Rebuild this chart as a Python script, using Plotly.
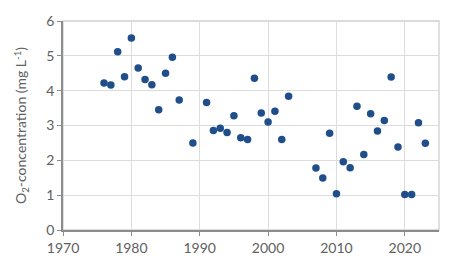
import plotly.graph_objects as go

years = [1976, 1977, 1978, 1979, 1980, 1981, 1982, 1983, 1984, 1985, 1986, 1987,
         1989, 1991, 1992, 1993, 1994, 1995, 1996, 1997, 1998, 1999, 2000, 2001,
         2002, 2003, 2007, 2008, 2009, 2010, 2011, 2012, 2013, 2014, 2015, 2016,
         2017, 2018, 2019, 2020, 2021, 2022, 2023]
o2 = [4.22, 4.16, 5.12, 4.40, 5.51, 4.65, 4.32, 4.17, 3.45, 4.50, 4.96, 3.73,
      2.50, 3.66, 2.86, 2.92, 2.80, 3.28, 2.65, 2.60, 4.36, 3.36, 3.10, 3.41,
      2.60, 3.84, 1.78, 1.49, 2.78, 1.04, 1.96, 1.79, 3.55, 2.17, 3.34, 2.84,
      3.14, 4.39, 2.38, 1.02, 1.02, 3.08, 2.49]

x_ticks = [1970, 1980, 1990, 2000, 2010, 2020]
y_ticks = [0, 1, 2, 3, 4, 5, 6]

fig = go.Figure()
fig.add_trace(go.Scatter(
    x=years, y=o2, mode="markers",
    marker=dict(color="#1f4e8a", size=7.5, line=dict(width=0)),
    showlegend=False,
))

font = dict(family="Lato, 'Open Sans', sans-serif", size=14, color="#606060")

fig.update_layout(
    width=471, height=269,
    margin=dict(l=63, r=32, t=16, b=39),
    paper_bgcolor="white", plot_bgcolor="white",
    font=font,
    shapes=[dict(type="rect", xref="paper", yref="paper", x0=0, y0=0, x1=1, y1=1,
                 line=dict(color="#cfcfcf", width=1.3), layer="below")],
)
fig.update_xaxes(
    range=[1970, 2025], tickvals=x_ticks, ticktext=[str(v) for v in x_ticks],
    showgrid=True, gridcolor="#dcdcdc", gridwidth=1.3,
    showline=True, linecolor="#8c8c8c", linewidth=1.5,
    ticks="outside", ticklen=4, tickcolor="#8c8c8c", tickwidth=1.3,
    zeroline=False, tickfont=font,
)
fig.update_yaxes(
    range=[0, 6], tickvals=y_ticks, ticktext=[str(v) for v in y_ticks],
    showgrid=True, gridcolor="#dcdcdc", gridwidth=1.3,
    showline=True, linecolor="#8c8c8c", linewidth=1.5,
    ticks="outside", ticklen=4, tickcolor="#8c8c8c", tickwidth=1.3,
    zeroline=False, tickfont=font,
    title=dict(text="O<sub>2</sub>-concentration (mg L<sup>-1</sup>)", font=font, standoff=16),
)

fig.write_html("out.html")
